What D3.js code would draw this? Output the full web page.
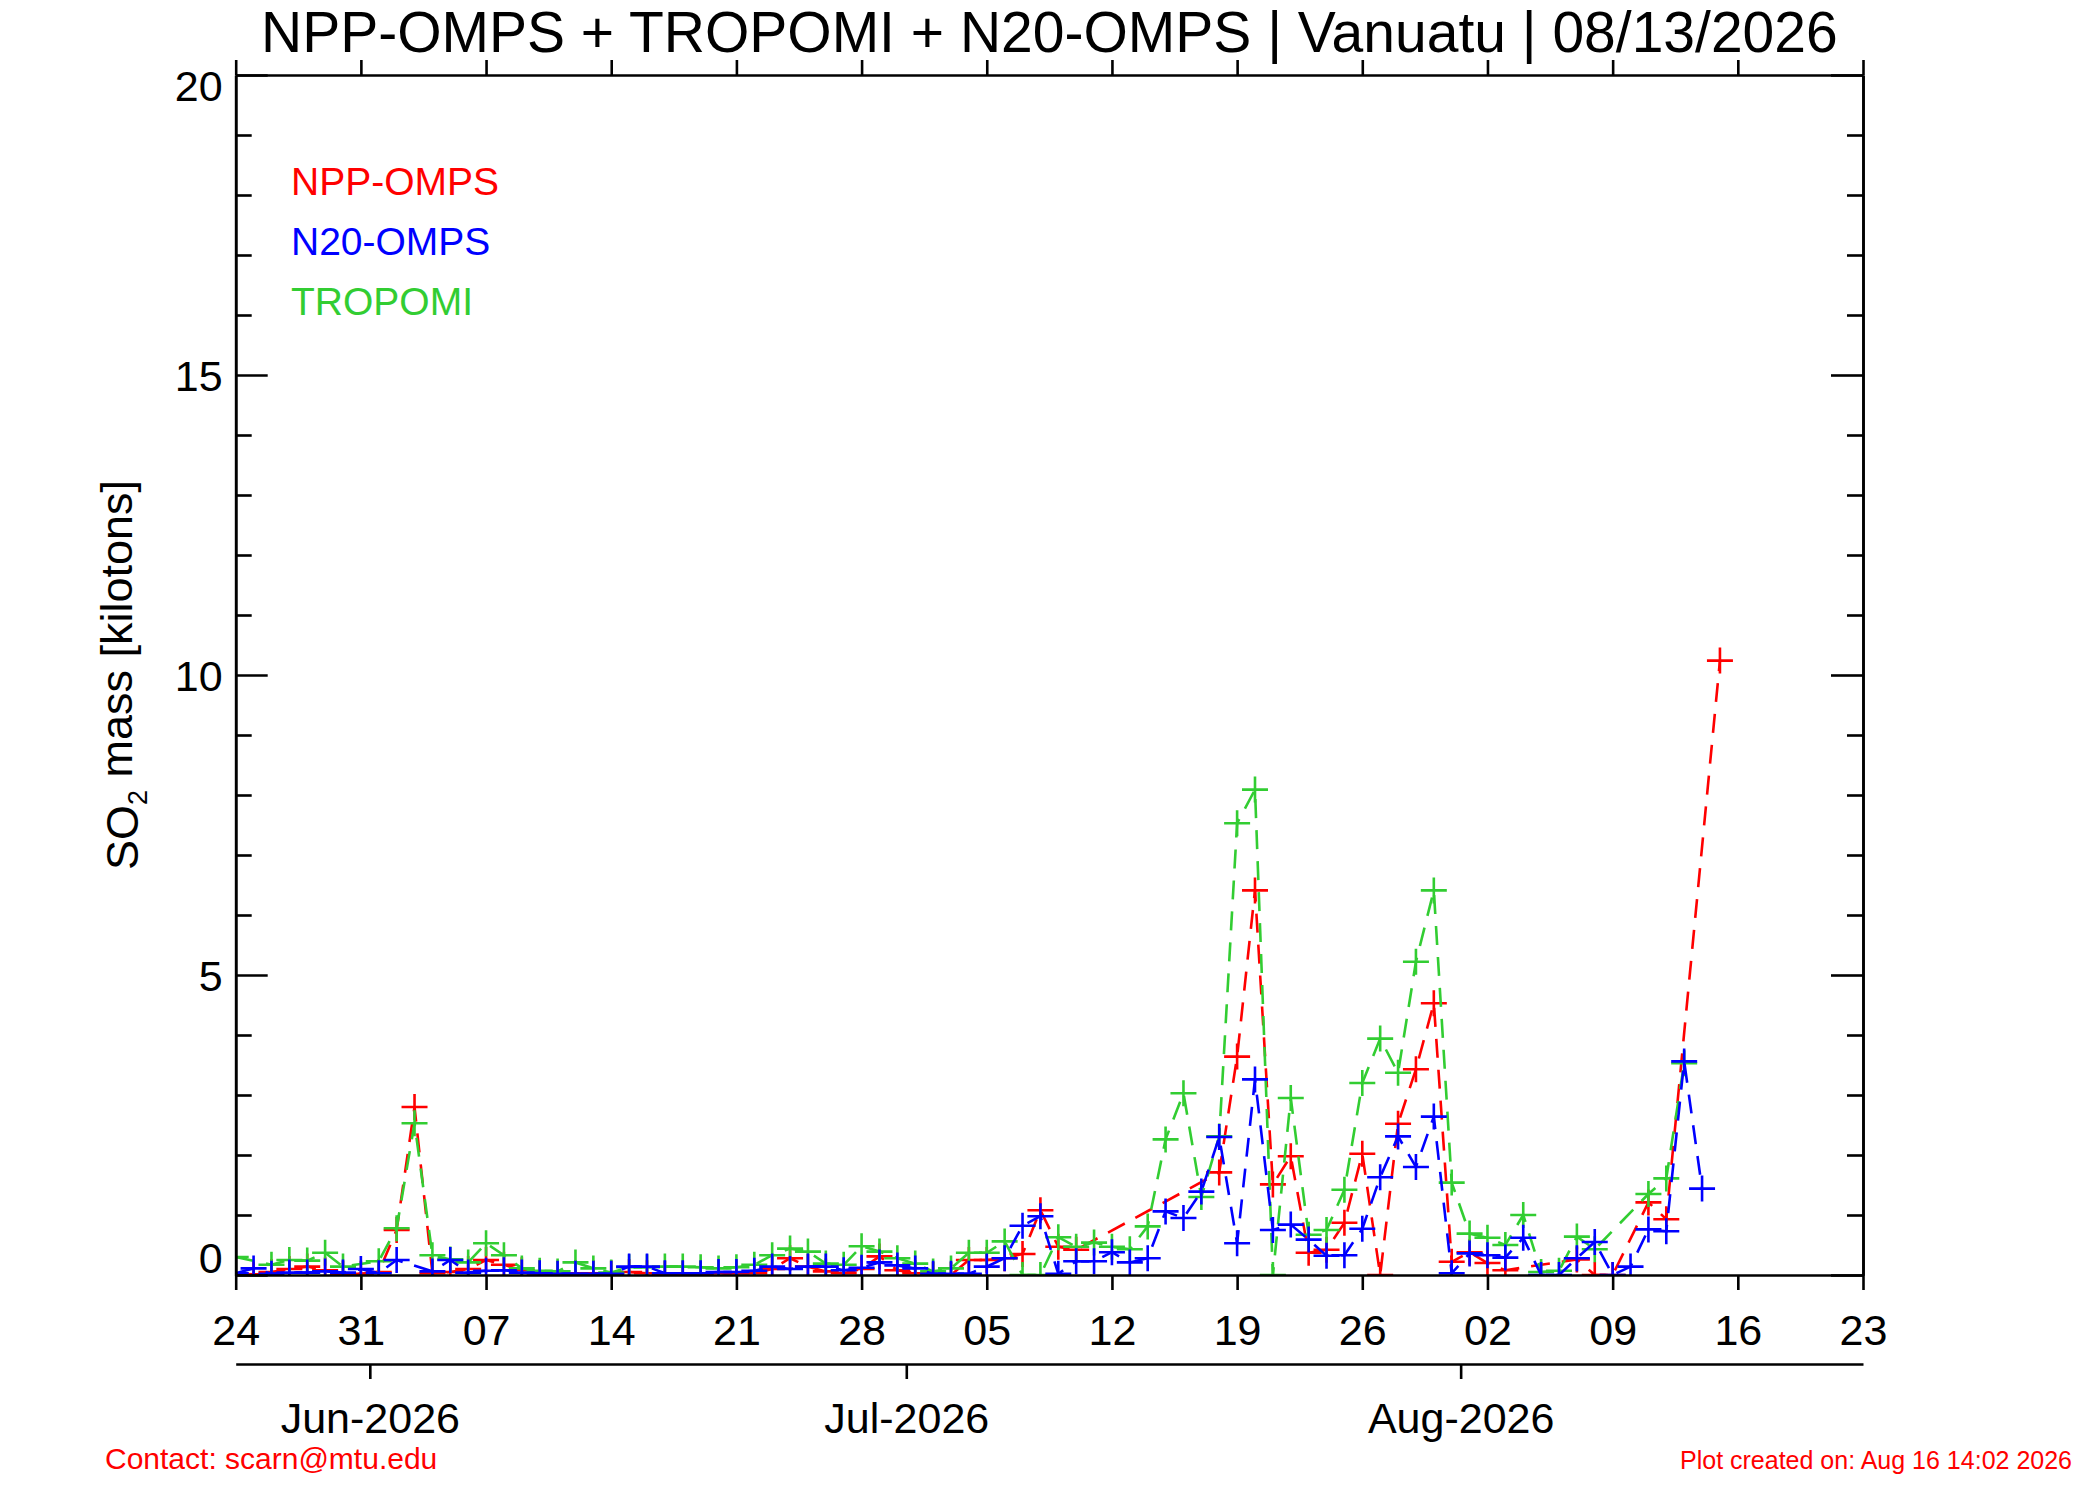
<!DOCTYPE html>
<html>
<head>
<meta charset="utf-8">
<script src="https://cdn.jsdelivr.net/npm/d3@7"></script>
<style>
  html, body { margin: 0; padding: 0; background: #fff; }
  svg { display: block; }
  text { font-family: "Liberation Sans", Arial, Helvetica, sans-serif; }
</style>
</head>
<body>
<svg id="chart" width="2100" height="1500"></svg>
<script>
// ---------------- data (one value per day starting 24 May 2026; null = no retrieval) ----------------
const startDay = "2026-05-24";
const endDay = "2026-08-16"; // exclusive

const nppOmps = [
  0.02,0.01,0.05,0.10,0.14,0.08,0.02,0.02,0.05,0.75,
  2.80,0.03,0.05,0.10,0.25,0.17,0.08,0.03,0.02,0.03,
  0.03,0.03,0.05,0.03,0.02,0.02,0.02,0.03,0.03,0.03,
  0.10,0.28,0.14,0.06,0.03,0.10,0.31,0.08,0.03,0.00,
  0.00,0.25,0.25,0.28,0.35,1.08,0.47,0.42,null,null,
  null,null,null,null,null,1.71,3.64,6.41,1.51,1.98,
  0.37,0.42,0.87,2.02,0.00,2.52,3.43,4.53,0.22,0.38,
  0.20,0.08,null,null,null,0.26,0.00,0.00,null,1.21,
  0.93,null,null,10.24
];
const n20Omps = [
  0.03,0.11,0.02,0.04,0.04,0.06,0.04,0.10,0.03,0.25,
  null,0.06,0.25,0.04,0.07,0.08,0.04,0.03,0.02,0.02,
  0.02,0.02,0.14,0.14,0.03,0.03,0.03,0.05,0.05,0.07,
  0.14,0.10,0.14,0.14,0.08,0.12,0.21,0.16,0.11,0.02,
  0.02,0.02,0.14,0.28,0.82,0.98,0.02,0.23,0.23,0.38,
  0.21,0.28,1.06,0.95,1.39,2.30,0.53,3.26,0.75,0.84,
  0.59,0.32,0.33,0.77,1.63,2.31,1.80,2.64,0.03,0.36,
  0.33,0.29,0.62,0.00,0.00,0.28,0.55,0.00,0.14,0.76,
  0.73,3.56,1.44,null
];
const tropomi = [
  0.30,null,0.17,0.25,0.24,0.37,0.14,null,0.23,0.78,
  2.53,0.33,0.26,0.21,0.53,0.33,0.11,0.07,0.06,0.21,
  0.11,0.04,0.13,0.13,0.14,0.14,0.13,0.11,0.13,0.17,
  0.33,0.44,0.39,0.19,0.17,0.48,0.39,0.28,0.19,0.06,
  0.11,0.37,0.37,0.56,0.00,0.00,0.63,0.47,0.54,0.47,
  0.43,0.81,2.26,3.03,1.30,2.31,7.53,8.09,0.00,2.95,
  0.67,0.75,1.42,3.20,3.94,3.37,5.22,6.41,1.54,0.69,
  0.62,0.50,1.00,0.05,0.07,0.64,0.43,null,null,1.35,
  1.61,3.53,null,null
];

const seriesNames = ["NPP-OMPS", "N20-OMPS", "TROPOMI"];
const seriesColors = ["#ff0000", "#0000ff", "#32cd32"];
const drawOrder = [0, 2, 1]; // NPP, TROPOMI, N20

const yMajorTicks = [0, 5, 10, 15, 20];
const monthLabels = ["Jun-2026", "Jul-2026", "Aug-2026"];
const monthTickDates = ["2026-05-31T12:00", "2026-06-30T12:00", "2026-07-31T12:00"];
const titleText = "NPP-OMPS + TROPOMI + N20-OMPS | Vanuatu | 08/13/2026";
const contactText = "Contact: scarn@mtu.edu";
const createdText = "Plot created on: Aug 16 14:02 2026";

// ---------------- setup ----------------
const parseDay = d3.timeParse("%Y-%m-%d");
const parseDT = d3.timeParse("%Y-%m-%dT%H:%M");
const days = d3.timeDay.range(parseDay(startDay), parseDay(endDay));
const allSeries = [nppOmps, n20Omps, tropomi];

const L = 235.7, R = 1863, T = 75, B = 1275;
const svg = d3.select("#chart");
svg.append("rect").attr("width", 2100).attr("height", 1500).attr("fill", "#fff");

const x = d3.scaleTime().domain([parseDay("2026-05-24"), parseDay("2026-08-23")]).range([L, R]);
const y = d3.scaleLinear().domain([0, 20]).range([B, T]);

svg.append("defs").append("clipPath").attr("id", "plotclip")
  .append("rect").attr("x", L).attr("y", T).attr("width", R - L).attr("height", B - T);

// ---------------- data ----------------
const plot = svg.append("g").attr("clip-path", "url(#plotclip)");
const line = d3.line().x(d => x(d.date)).y(d => y(d.v));
drawOrder.forEach(i => {
  const pts = days.map((dt, k) => ({date: dt, v: allSeries[i][k]})).filter(p => p.v !== null && p.v !== undefined);
  const g = plot.append("g");
  g.append("path").datum(pts).attr("d", line)
    .attr("fill", "none").attr("stroke", seriesColors[i])
    .attr("stroke-width", 2.6).attr("stroke-dasharray", "19,12");
  g.selectAll("path.mk").data(pts).join("path").attr("class", "mk")
    .attr("d", d => `M${x(d.date) - 13},${y(d.v)}H${x(d.date) + 13}M${x(d.date)},${y(d.v) - 13}V${y(d.v) + 13}`)
    .attr("stroke", seriesColors[i]).attr("stroke-width", 2.6).attr("fill", "none");
});

// ---------------- axes ----------------
const weekTicks = d3.timeDay.range(parseDay("2026-05-24"), parseDay("2026-08-24"), 7);
const axisStyle = g => {
  g.selectAll("path.domain").attr("stroke", "#000").attr("stroke-width", 2.6);
  g.selectAll(".tick line").attr("stroke", "#000").attr("stroke-width", 2.6);
  g.selectAll("text").attr("fill", "#000").style("font-family", '"Liberation Sans", Arial, sans-serif');
};

// bottom date axis
const gb = svg.append("g").attr("transform", `translate(0,${B})`)
  .call(d3.axisBottom(x).tickValues(weekTicks).tickFormat(d3.timeFormat("%d")).tickSizeInner(15).tickSizeOuter(0));
axisStyle(gb);
gb.selectAll("text").attr("font-size", 43).attr("y", 70).attr("dy", 0);

// top axis
const gt = svg.append("g").attr("transform", `translate(0,${T})`)
  .call(d3.axisTop(x).tickValues(weekTicks).tickFormat("").tickSizeInner(15).tickSizeOuter(0));
axisStyle(gt);

// left axis (ticks inward)
const yMinor = d3.range(0, 21).filter(v => !yMajorTicks.includes(v));
const gl = svg.append("g").attr("transform", `translate(${L},0)`)
  .call(d3.axisLeft(y).tickValues(yMajorTicks).tickFormat(d3.format("d")).tickSizeInner(-32).tickSizeOuter(0).tickPadding(13));
axisStyle(gl);
gl.selectAll("text").attr("font-size", 43)
  .attr("dy", v => v === 20 ? "0.6em" : (v === 0 ? "-0.06em" : "0.36em"));
const glm = svg.append("g").attr("transform", `translate(${L},0)`)
  .call(d3.axisLeft(y).tickValues(yMinor).tickFormat("").tickSizeInner(-16).tickSizeOuter(0));
axisStyle(glm);

// right axis (ticks inward)
const gr = svg.append("g").attr("transform", `translate(${R},0)`)
  .call(d3.axisRight(y).tickValues(yMajorTicks).tickFormat("").tickSizeInner(-32).tickSizeOuter(0));
axisStyle(gr);
const grm = svg.append("g").attr("transform", `translate(${R},0)`)
  .call(d3.axisRight(y).tickValues(yMinor).tickFormat("").tickSizeInner(-16).tickSizeOuter(0));
axisStyle(grm);

// month axis
const monthDates = monthTickDates.map(parseDT);
const gm = svg.append("g").attr("transform", "translate(0,1364)")
  .call(d3.axisBottom(x).tickValues(monthDates).tickFormat((d, i) => monthLabels[i]).tickSizeInner(15).tickSizeOuter(0));
axisStyle(gm);
gm.selectAll("text").attr("font-size", 43).attr("y", 69).attr("dy", 0);

// ---------------- texts ----------------
svg.append("text").attr("x", (L + R) / 2).attr("y", 52).attr("text-anchor", "middle")
  .attr("font-size", 57).attr("fill", "#000").text(titleText);

const yl = svg.append("text").attr("transform", `translate(138,${(T + B) / 2}) rotate(-90)`)
  .attr("text-anchor", "middle").attr("font-size", 45).attr("fill", "#000");
yl.append("tspan").text("SO");
yl.append("tspan").attr("font-size", 27).attr("dy", "0.35em").text("2");
yl.append("tspan").attr("dy", "-0.35em").attr("dx", 0).text(" mass [kilotons]");

seriesNames.forEach((name, i) => {
  svg.append("text").attr("x", 291).attr("y", 195 + 60 * i)
    .attr("font-size", 39).attr("fill", seriesColors[i]).text(name);
});

svg.append("text").attr("x", 105).attr("y", 1469).attr("font-size", 30).attr("fill", "#ff0000").text(contactText);
svg.append("text").attr("x", 2072).attr("y", 1469).attr("text-anchor", "end").attr("font-size", 25).attr("fill", "#ff0000").text(createdText);
</script>
</body>
</html>
